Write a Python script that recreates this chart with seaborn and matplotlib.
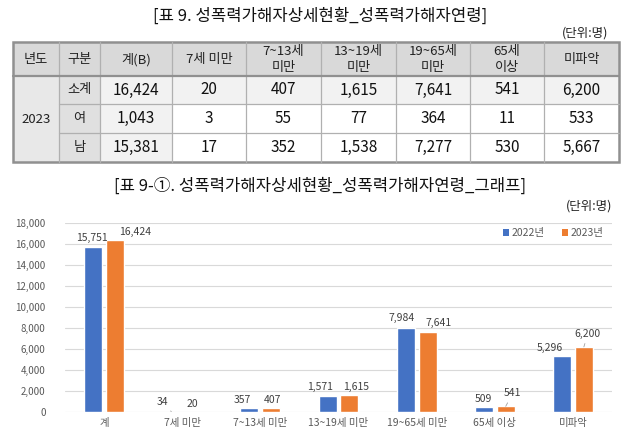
import matplotlib
matplotlib.use("Agg")
import matplotlib.pyplot as plt
from matplotlib.patches import Rectangle
from matplotlib.ticker import FuncFormatter
import numpy as np
import pandas as pd
import seaborn as sns

# ---------------- data ----------------
title_table = "[표 9. 성폭력가해자상세현황_성폭력가해자연령]"
title_chart = "[표 9-①. 성폭력가해자상세현황_성폭력가해자연령_그래프]"
unit_text = "(단위:명)"

table_headers = ["년도", "구분", "계(B)", "7세 미만", "7~13세\n미만", "13~19세\n미만",
                 "19~65세\n미만", "65세\n이상", "미파악"]
table_year = "2023"
table_groups = ["소계", "여", "남"]
row_total = [16424, 20, 407, 1615, 7641, 541, 6200]
row_female = [1043, 3, 55, 77, 364, 11, 533]
row_male = [15381, 17, 352, 1538, 7277, 530, 5667]

categories = ["계", "7세 미만", "7~13세 미만", "13~19세 미만", "19~65세 미만", "65세 이상", "미파악"]
series_names = ["2022년", "2023년"]
values_2022 = [15751, 34, 357, 1571, 7984, 509, 5296]
values_2023 = [16424, 20, 407, 1615, 7641, 541, 6200]

# label offsets (pixels) from bar top centre, and leader-line flags
label_offsets = [
    [(-1, 9), (-9, 10), (-7, 8), (-8, 8.5), (-4, 10), (0, 8), (-12, 8)],
    [(20, 8), (-1, 8), (1, 8), (7, 8), (11, 9), (7, 13), (4, 13)],
]
label_leaders = [
    [False, True, False, False, False, False, False],
    [False, False, False, False, False, True, True],
]

# ---------------- style ----------------
sns.set_theme(style="white")
plt.rcParams["font.family"] = ["Noto Sans CJK KR", "DejaVu Sans"]

W, H = 640, 436
fig = plt.figure(figsize=(W / 100, H / 100), dpi=100)
fig.patch.set_facecolor("white")

tab = fig.add_axes([0, 0, 1, 1])
tab.set_xlim(0, W)
tab.set_ylim(H, 0)
tab.axis("off")

tab.text(320, 16, title_table, ha="center", va="center", fontsize=12, color="#111111")
tab.text(608, 33, unit_text, ha="right", va="center", fontsize=9, color="#222222")

col_edges = [13, 59, 100, 172, 246, 321, 396, 470, 544, 619]
row_edges = [42, 76, 104, 133, 162]
header_bg, left_bg, year_bg, light_bg = "#d9d9d9", "#e0e0e0", "#e8e8e8", "#f2f2f2"
inner_c, outer_c = "#b0b0b0", "#909090"

x0, x1 = col_edges[0], col_edges[-1]
y0, y1 = row_edges[0], row_edges[-1]
tab.add_patch(Rectangle((x0, y0), x1 - x0, row_edges[1] - y0, fc=header_bg, ec="none"))
tab.add_patch(Rectangle((x0, row_edges[1]), col_edges[1] - x0, y1 - row_edges[1], fc=year_bg, ec="none"))
tab.add_patch(Rectangle((col_edges[1], row_edges[1]), col_edges[2] - col_edges[1], y1 - row_edges[1],
                        fc=left_bg, ec="none"))
tab.add_patch(Rectangle((col_edges[2], row_edges[1]), col_edges[3] - col_edges[2], y1 - row_edges[1],
                        fc=light_bg, ec="none"))
tab.add_patch(Rectangle((col_edges[3], row_edges[1]), x1 - col_edges[3], row_edges[2] - row_edges[1],
                        fc=light_bg, ec="none"))

for cx in col_edges[1:-1]:
    tab.plot([cx, cx], [y0, y1], color=inner_c, lw=0.9)
for ry in row_edges[2:-1]:
    tab.plot([col_edges[1], x1], [ry, ry], color=inner_c, lw=0.9)
tab.plot([x0, x1], [row_edges[1], row_edges[1]], color=outer_c, lw=1.6)
tab.add_patch(Rectangle((x0, y0), x1 - x0, y1 - y0, fc="none", ec=outer_c, lw=1.8))

for j, htxt in enumerate(table_headers):
    cxm = (col_edges[j] + col_edges[j + 1]) / 2
    tab.text(cxm, (row_edges[0] + row_edges[1]) / 2 + 0.5, htxt, ha="center", va="center",
             fontsize=9.5, color="#222222", linespacing=1.4)

tab.text((col_edges[0] + col_edges[1]) / 2, (row_edges[1] + row_edges[-1]) / 2, table_year,
         ha="center", va="center", fontsize=9.5, color="#222222")
for i, (grp, vals) in enumerate(zip(table_groups, [row_total, row_female, row_male])):
    rym = (row_edges[i + 1] + row_edges[i + 2]) / 2
    tab.text((col_edges[1] + col_edges[2]) / 2, rym, grp, ha="center", va="center",
             fontsize=9.5, color="#222222")
    for j, v in enumerate(vals):
        cxm = (col_edges[j + 2] + col_edges[j + 3]) / 2
        tab.text(cxm, rym, f"{v:,}", ha="center", va="center", fontsize=11, color="#111111")

tab.text(320, 186, title_chart, ha="center", va="center", fontsize=12, color="#111111")
tab.text(612, 206, unit_text, ha="right", va="center", fontsize=9, color="#222222")

# ---------------- chart ----------------
colors = ["#4472C4", "#ED7D31"]
df = pd.DataFrame({
    "category": categories * 2,
    "year": [series_names[0]] * len(categories) + [series_names[1]] * len(categories),
    "value": values_2022 + values_2023,
})

ax = fig.add_axes([65 / W, (H - 412) / H, (612 - 65) / W, (412 - 223) / H])
ax.patch.set_alpha(0)
sns.barplot(data=df, x="category", y="value", hue="year", order=categories, hue_order=series_names,
            palette=colors, width=0.56, gap=0.18, saturation=1, legend=False, ax=ax, errorbar=None)
ax.set_xlim(-0.5, len(categories) - 0.5)
ax.set_ylim(0, 18000)
ax.set_yticks(np.arange(0, 18001, 2000))
ax.yaxis.set_major_formatter(FuncFormatter(lambda v, p: f"{int(v):,}"))
ax.grid(axis="y", color="#d9d9d9", lw=0.8)
ax.set_axisbelow(True)
for s in ax.spines.values():
    s.set_visible(False)
ax.tick_params(axis="y", length=0, pad=14, labelsize=7, labelcolor="#595959")
ax.tick_params(axis="x", length=0, pad=4, labelsize=7.5, labelcolor="#595959")
ax.set_xlabel("")
ax.set_ylabel("")

for k, cont in enumerate(ax.containers):
    for i, bar in enumerate(cont):
        bx = bar.get_x() + bar.get_width() / 2
        bh = bar.get_height()
        dx, dy = label_offsets[k][i]
        arrow = dict(arrowstyle="-", color="#a0a0a0", lw=0.6, shrinkA=1, shrinkB=0) if label_leaders[k][i] else None
        ax.annotate(f"{int(bh):,}", xy=(bx, bh), xytext=(dx, dy), textcoords="offset pixels",
                    ha="center", va="center", fontsize=7.5, color="#404040", arrowprops=arrow)

handles = [Rectangle((0, 0), 1, 1, fc=c, ec="none") for c in colors]
ax.legend(handles, series_names, loc="center right", bbox_to_anchor=(0.985, 0.947), ncol=2,
          frameon=False, fontsize=7.5, handlelength=0.6, handleheight=0.6, handletextpad=0.3,
          columnspacing=1.6, borderaxespad=0, borderpad=0, labelcolor="#595959")

fig.savefig("out.png", dpi=100)
